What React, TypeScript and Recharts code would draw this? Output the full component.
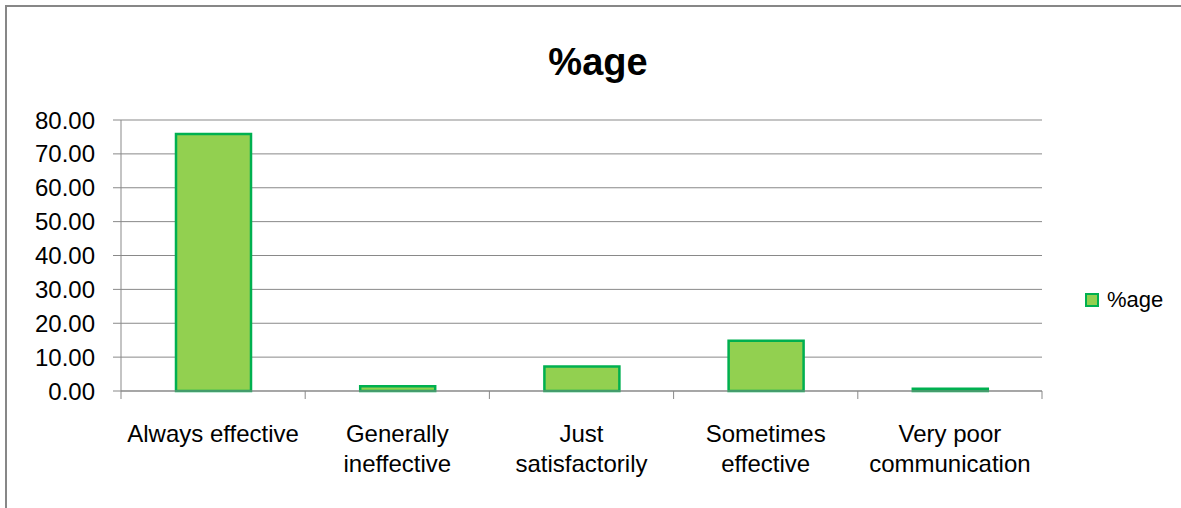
import React from 'react';
import { BarChart, Bar, XAxis, YAxis, CartesianGrid, Legend, Text } from 'recharts';

const categories = [
  'Always effective',
  'Generally\nineffective',
  'Just\nsatisfactorily',
  'Sometimes\neffective',
  'Very poor\ncommunication',
];
const percentages = [75.86, 1.38, 7.24, 14.83, 0.69];
const yTicks = [0, 10, 20, 30, 40, 50, 60, 70, 80];
const seriesName = '%age';
const title = '%age';

const data = categories.map((name, i) => ({ name, value: percentages[i] }));

const FONT = '"Liberation Sans", Arial, sans-serif';
const AXIS = '#898989';
const FILL = '#92d050';
const EDGE = '#00b050';
const TICK_SIZE = 8;

function CategoryTick(props: any) {
  const { x, y, payload, index, visibleTicksCount } = props;
  const half = payload.offset ?? 0;
  const axisY = y - TICK_SIZE;
  const lines = String(payload.value).split('\n');
  return (
    <g>
      <line x1={x - half} x2={x - half} y1={axisY} y2={y} stroke={AXIS} />
      {index === visibleTicksCount - 1 && (
        <line x1={x + half} x2={x + half} y1={axisY} y2={y} stroke={AXIS} />
      )}
      {lines.map((line, i) => (
        <Text
          key={i}
          x={x}
          y={y + 26 + i * 30}
          textAnchor="middle"
          verticalAnchor="start"
          fontSize={24}
          fontFamily={FONT}
          fill="#000"
        >
          {line}
        </Text>
      ))}
    </g>
  );
}

function LegendBox(props: any) {
  const item = props.payload && props.payload[0];
  return (
    <div style={{ display: 'flex', alignItems: 'center', width: 'max-content', whiteSpace: 'nowrap', fontFamily: FONT, fontSize: 22, lineHeight: '22px', color: '#000' }}>
      <span style={{ display: 'inline-block', flexShrink: 0, width: 10, height: 10, background: FILL, border: `2px solid ${EDGE}`, marginRight: 8 }} />
      <span>{item ? item.value : seriesName}</span>
    </div>
  );
}

export default function App() {
  return (
    <div style={{ position: 'fixed', left: 0, top: 0, width: 1181, height: 508, overflow: 'hidden', background: '#fff' }}>
      <div style={{ position: 'absolute', left: 5, top: 5, width: 1400, height: 800, borderLeft: '2px solid #878787', borderTop: '2px solid #878787' }} />
      <div style={{ position: 'absolute', left: 498, top: 43, width: 200, textAlign: 'center', fontFamily: FONT, fontWeight: 700, fontSize: 38, lineHeight: '38px', color: '#000' }}>
        {title}
      </div>
      <div style={{ position: 'absolute', left: 0, top: 0 }}>
        <BarChart width={1181} height={508} data={data} margin={{ top: 120, right: 139, bottom: 0, left: 0 }}>
          <CartesianGrid vertical={false} stroke={AXIS} />
          <XAxis
            dataKey="name"
            height={117}
            interval={0}
            axisLine={{ stroke: AXIS }}
            tickLine={false}
            tickSize={TICK_SIZE}
            tickMargin={0}
            tick={<CategoryTick />}
          />
          <YAxis
            width={121}
            domain={[0, 80]}
            ticks={yTicks}
            interval={0}
            tickFormatter={(v: number) => v.toFixed(2)}
            axisLine={{ stroke: AXIS }}
            tickLine={{ stroke: AXIS }}
            tickSize={8}
            tickMargin={18}
            tick={{ fill: '#000', fontSize: 24, fontFamily: FONT }}
          />
          <Legend
            content={<LegendBox />}
            wrapperStyle={{ left: 1085, top: 289, width: 0, height: 0 }}
          />
          <Bar
            dataKey="value"
            name={seriesName}
            fill={FILL}
            stroke={EDGE}
            strokeWidth={2.5}
            barSize={75}
            isAnimationActive={false}
          />
        </BarChart>
      </div>
    </div>
  );
}
